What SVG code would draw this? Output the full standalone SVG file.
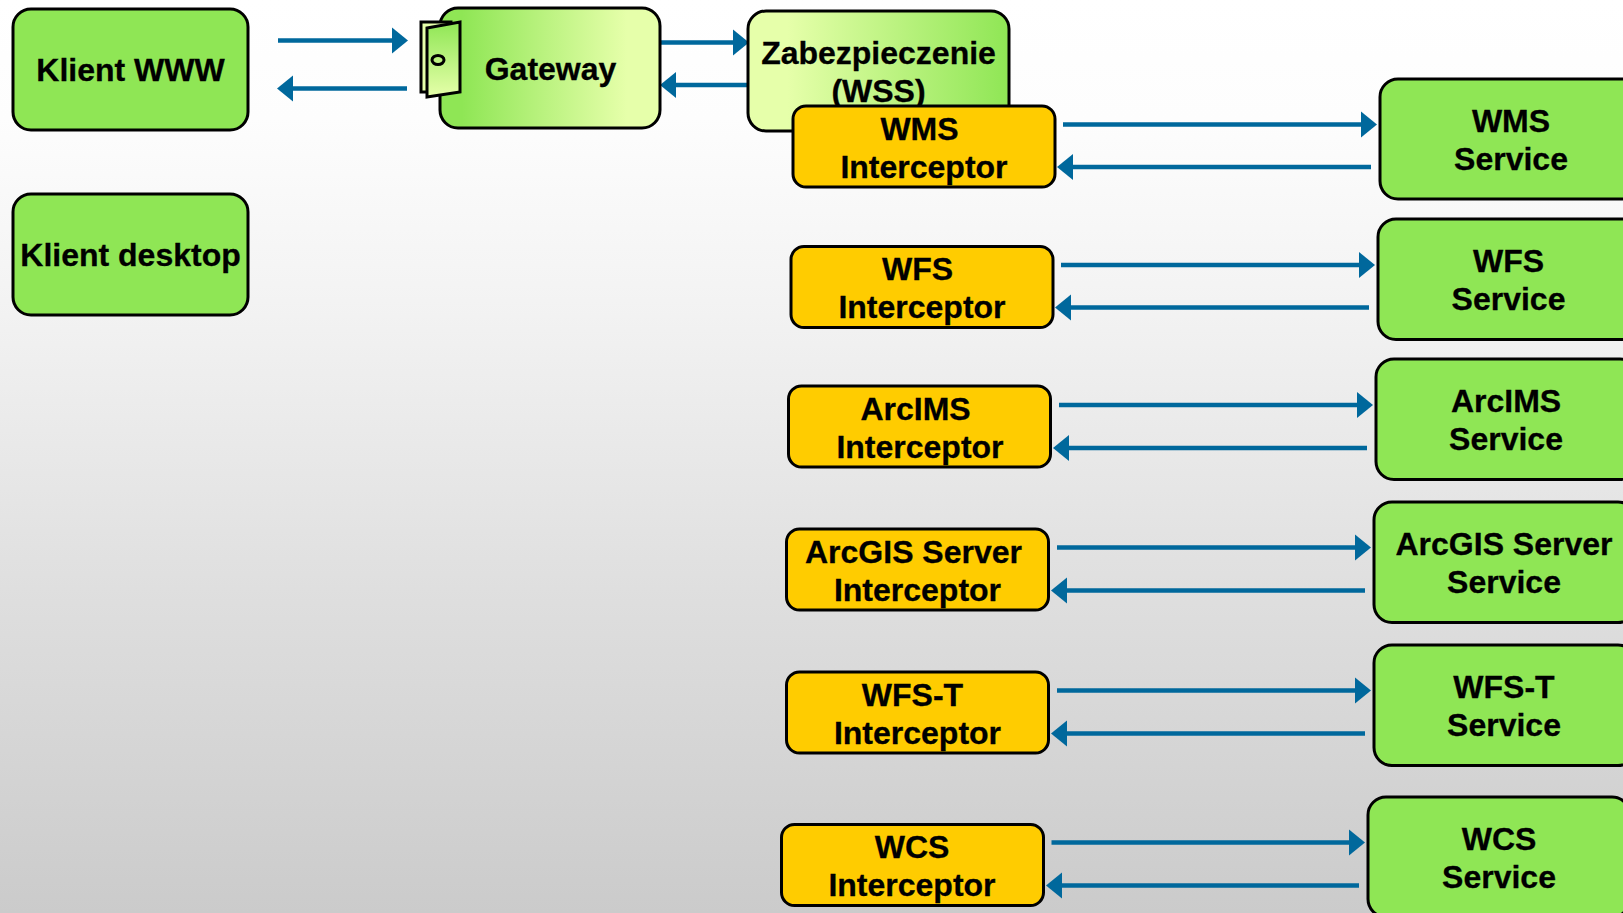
<svg xmlns="http://www.w3.org/2000/svg" width="1623" height="913" viewBox="0 0 1623 913">
<style>
.n{stroke:#000;stroke-width:3}
.g{fill:#8fe655}
.o{fill:#ffcc00}
text{font-family:"Liberation Sans",Arial,sans-serif;font-weight:700;font-size:32px;fill:#000;stroke:#000;stroke-width:.3;text-anchor:middle}
.a{fill:none;stroke:#00689c;stroke-width:4.500;marker-end:url(#h)}
</style>
<defs>
<linearGradient id="bg" x1="0" y1="0" x2="0" y2="1"><stop offset="0" stop-color="#fff"/><stop offset="0.13" stop-color="#fdfdfd"/><stop offset="0.33" stop-color="#f3f3f3"/><stop offset="0.66" stop-color="#dedede"/><stop offset="1" stop-color="#cbcbcb"/></linearGradient>
<linearGradient id="gw" x1="0" y1="0" x2="1" y2="0"><stop offset="0.1" stop-color="#8fe655"/><stop offset="0.85" stop-color="#e6ffaa"/></linearGradient>
<linearGradient id="wss" x1="0" y1="0" x2="1" y2="0"><stop offset="0.15" stop-color="#e6ffaa"/><stop offset="1" stop-color="#8fe655"/></linearGradient>
<linearGradient id="dr" x1="0" y1="0" x2="0" y2="1"><stop offset="0" stop-color="#8fe655"/><stop offset="1" stop-color="#e6ffaa"/></linearGradient>
<marker id="h" markerUnits="userSpaceOnUse" markerWidth="17" markerHeight="28" refX="0" refY="14" orient="auto"><path d="M0 1L16 14L0 27Z" fill="#00689c"/></marker>
</defs>
<rect width="1623" height="913" fill="url(#bg)"/>
<g id="connectors">
<path class="a" d="M278 40.500H392"/><path class="a" d="M407 88.500H293"/>
<path class="a" d="M660 42.500H733"/><path class="a" d="M749 85H676"/>
</g>
<g id="klient-www"><rect class="n g" x="13" y="9" width="235" height="121" rx="18"/><text x="130.500" y="81">Klient WWW</text></g>
<g id="klient-desktop"><rect class="n g" x="13" y="194" width="235" height="121" rx="18"/><text x="130.500" y="266">Klient desktop</text></g>
<g id="gateway"><rect class="n" fill="url(#gw)" x="440" y="8" width="220" height="120" rx="18"/><text x="550.500" y="80">Gateway</text>
<rect x="421" y="22" width="30" height="70" fill="#e6ffaa" stroke="#000" stroke-width="3"/>
<path d="M427 28L460 22V92L427 97Z" fill="url(#dr)" stroke="#000" stroke-width="3"/>
<ellipse cx="438" cy="60" rx="6" ry="4.500" fill="none" stroke="#000" stroke-width="3"/></g>
<g id="wss"><rect class="n" fill="url(#wss)" x="748" y="11" width="261" height="120" rx="18"/><text x="878.500" y="64">Zabezpieczenie</text><text x="878.500" y="102">(WSS)</text></g>
<g id="wms-i"><rect class="n o" x="793" y="106" width="262" height="81" rx="13"/><text x="919.500" y="140">WMS</text><text x="924" y="178">Interceptor</text></g>
<g id="wfs-i"><rect class="n o" x="791" y="246.500" width="262" height="81" rx="13"/><text x="917.500" y="280">WFS</text><text x="922" y="318">Interceptor</text></g>
<g id="arcims-i"><rect class="n o" x="788.500" y="386" width="262" height="81" rx="13"/><text x="915.500" y="420">ArcIMS</text><text x="920" y="458">Interceptor</text></g>
<g id="arcgis-i"><rect class="n o" x="786.500" y="529" width="262" height="81" rx="13"/><text x="913.500" y="563">ArcGIS Server</text><text x="917.500" y="601">Interceptor</text></g>
<g id="wfst-i"><rect class="n o" x="786.500" y="672" width="262" height="81" rx="13"/><text x="912.500" y="706">WFS-T</text><text x="917.500" y="744">Interceptor</text></g>
<g id="wcs-i"><rect class="n o" x="781.500" y="824.500" width="262" height="81" rx="13"/><text x="912" y="858">WCS</text><text x="912" y="896">Interceptor</text></g>
<g id="wms-s"><rect class="n g" x="1380" y="79" width="262" height="120" rx="18"/><text x="1511" y="132">WMS</text><text x="1511" y="170">Service</text></g>
<g id="wfs-s"><rect class="n g" x="1378" y="219" width="262" height="120.500" rx="18"/><text x="1508.500" y="272">WFS</text><text x="1508.500" y="310">Service</text></g>
<g id="arcims-s"><rect class="n g" x="1376" y="359" width="262" height="120.500" rx="18"/><text x="1506" y="412">ArcIMS</text><text x="1506" y="450">Service</text></g>
<g id="arcgis-s"><rect class="n g" x="1374" y="502" width="262" height="120.500" rx="18"/><text x="1504" y="555">ArcGIS Server</text><text x="1504" y="593">Service</text></g>
<g id="wfst-s"><rect class="n g" x="1374" y="645" width="262" height="120.500" rx="18"/><text x="1504" y="698">WFS-T</text><text x="1504" y="736">Service</text></g>
<g id="wcs-s"><rect class="n g" x="1368" y="797" width="262" height="120" rx="18"/><text x="1499" y="850">WCS</text><text x="1499" y="888">Service</text></g>
<g id="connectors-2">
<path class="a" d="M1063 124.500H1361"/><path class="a" d="M1371 167H1073"/>
<path class="a" d="M1061 265H1359"/><path class="a" d="M1369 307.500H1071"/>
<path class="a" d="M1059 405H1357"/><path class="a" d="M1367 448H1069"/>
<path class="a" d="M1057 547.500H1355"/><path class="a" d="M1365 590.500H1067"/>
<path class="a" d="M1057 690.500H1355"/><path class="a" d="M1365 733.500H1067"/>
<path class="a" d="M1051.500 842.500H1349"/><path class="a" d="M1359 885.500H1062"/>
</g>
</svg>
